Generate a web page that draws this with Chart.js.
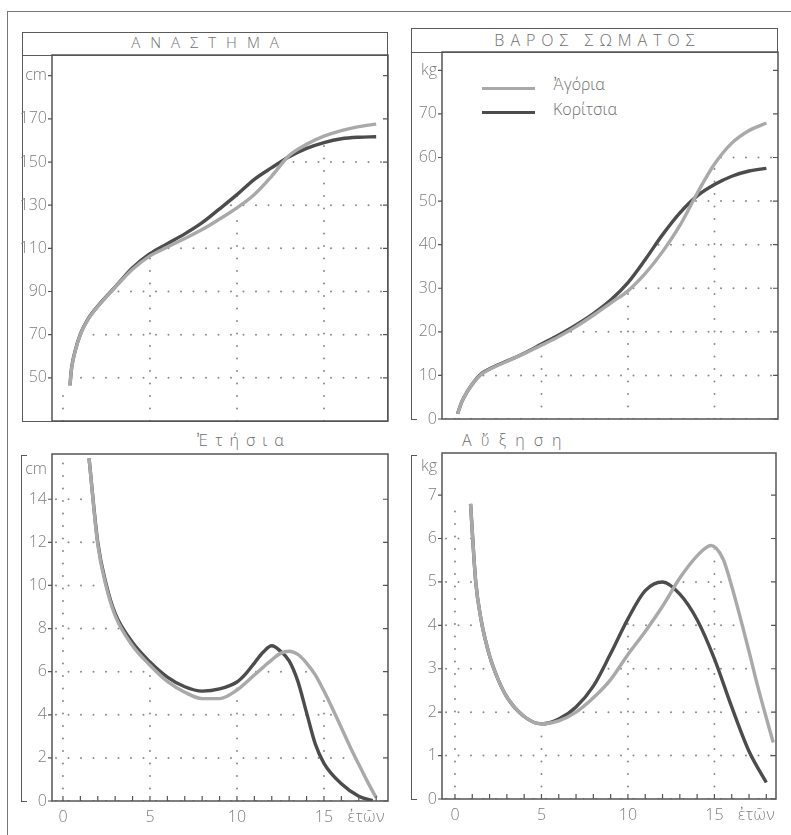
<!DOCTYPE html>
<html lang="el">
<head>
<meta charset="utf-8">
<title>Ανάστημα και βάρος σώματος</title>
<script src="https://cdn.jsdelivr.net/npm/chart.js@4.4.1/dist/chart.umd.min.js"></script>
<style>
  body { margin: 0; background: #fff; width: 791px; height: 835px; overflow: hidden; position: relative;
         font-family: 'Open Sans', 'DejaVu Sans', sans-serif; font-weight: 300; color: #6e6e6e; }
  canvas { position: absolute; }
  .linea { position: absolute; box-sizing: border-box; border: 0 solid #5a5a5a; }
  .texto { position: absolute; white-space: nowrap; line-height: 1; }
  .leyenda { position: absolute; height: 0; border-top: 3px solid; width: 53px; }
</style>
</head>
<body>
<!-- marco general -->
<div class="linea" style="left:7px; top:11px; width:800px; height:840px; border-left-width:1.5px; border-top-width:1.5px; border-color:#777;"></div>

<!-- panel ΑΝΑΣΤΗΜΑ -->
<div class="linea" style="left:22px; top:32px; width:366px; height:390px; border-width:1.5px;"></div>
<div class="linea" style="left:22px; top:32px; width:366px; height:24px; border-width:1.5px;"></div>
<div class="texto" style="left:22px; top:35px; width:366px; text-align:center; font-size:15px; letter-spacing:10px; padding-left:10px; box-sizing:border-box;">ΑΝΑΣΤΗΜΑ</div>

<!-- panel ΒΑΡΟΣ ΣΩΜΑΤΟΣ -->
<div class="linea" style="left:411px; top:28px; width:367px; height:25px; border-width:1.5px;"></div>
<div class="linea" style="left:411px; top:28px; width:6px; height:392px; border-left-width:1.5px; border-bottom-width:1.5px;"></div>
<div class="texto" style="left:411px; top:32px; width:367px; text-align:center; font-size:16px; letter-spacing:6px; padding-left:6px; box-sizing:border-box;">ΒΑΡΟΣ ΣΩΜΑΤΟΣ</div>

<!-- leyenda -->
<div class="leyenda" style="left:482px; top:87px; border-color:#a9a9a9;"></div>
<div class="leyenda" style="left:482px; top:111px; border-color:#4c4c4c;"></div>
<div class="texto" style="left:553px; top:76px; font-size:16px;">Ἀγόρια</div>
<div class="texto" style="left:553px; top:101px; font-size:16px;">Κορίτσια</div>

<!-- paneles de abajo -->
<div class="linea" style="left:21px; top:455px; width:6px; height:347px; border-left-width:1.5px; border-top-width:1.5px; border-bottom-width:1.5px;"></div>
<div class="linea" style="left:411px; top:455px; width:6px; height:345px; border-left-width:1.5px; border-top-width:1.5px; border-bottom-width:1.5px;"></div>
<div class="texto" style="left:197px; top:432px; font-size:16px; letter-spacing:7px;">Ἐτήσια</div>
<div class="texto" style="left:462px; top:432px; font-size:16px; letter-spacing:9px;">Αὔξηση</div>

<canvas id="altura" width="392" height="385" style="left:0; top:45px;"></canvas>
<canvas id="peso" width="392" height="386" style="left:390px; top:42px;"></canvas>
<canvas id="alturaAnual" width="392" height="391" style="left:0; top:444px;"></canvas>
<canvas id="pesoAnual" width="392" height="390" style="left:390px; top:443px;"></canvas>

<script>
// Datos (edad en años)
let edadesAltura = [0.4, 0.5, 0.7, 1, 1.4, 2, 3, 4, 5, 6, 7, 8, 9, 10, 11, 12, 13, 14, 15, 16, 17, 18];
let alturaAgoria = [46.5, 54.5, 62.3, 70, 76.5, 83, 92, 100.3, 106.5, 110.6, 114.6, 118.7, 123.6, 128.8, 135, 143.5, 153, 158.2, 162, 164.6, 166.4, 167.6];
let alturaKoritsia = [46.5, 54.8, 62.5, 70.3, 76.8, 83.2, 92.1, 101, 107.5, 112.2, 116.7, 121.9, 128.3, 134.9, 142, 147.4, 152.4, 156.3, 159, 160.8, 161.5, 161.7];

let edadesPeso = [0.15, 0.4, 0.7, 1, 1.5, 2, 3, 4, 5, 6, 7, 8, 9, 10, 11, 12, 13, 14, 15, 16, 17, 18];
let pesoAgoria = [1.2, 4, 6.2, 8, 10.2, 11.4, 13.2, 15, 16.9, 18.9, 21.2, 23.8, 26.6, 29.4, 33.4, 38.4, 44.4, 51.8, 58.5, 63.3, 66.2, 67.9];
let pesoKoritsia = [1.2, 4, 6.2, 8, 10.3, 11.5, 13.3, 15.1, 17.2, 19.3, 21.6, 24.2, 27.3, 31.3, 36.6, 42.3, 47.3, 51.2, 53.8, 55.7, 56.9, 57.5];

let edadesAlturaAnualA = [1.5, 2, 2.5, 3, 4, 5, 6, 7, 8, 9, 10, 11, 11.5, 12, 12.5, 13, 13.5, 14, 14.5, 15, 15.5, 16, 16.5, 17, 17.5, 18];
let alturaAnualAgoria = [15.9, 11.9, 9.9, 8.6, 7.2, 6.3, 5.55, 5.05, 4.75, 4.75, 5.15, 5.85, 6.2, 6.55, 6.85, 6.95, 6.8, 6.4, 5.85, 5.1, 4.27, 3.4, 2.52, 1.7, 0.9, 0.15];
let edadesAlturaAnualK = [1.5, 2, 2.5, 3, 4, 5, 6, 7, 8, 9, 10, 10.5, 11, 11.5, 12, 12.5, 13, 13.5, 14, 14.5, 15, 16, 17, 17.8];
let alturaAnualKoritsia = [15.9, 12, 10, 8.7, 7.35, 6.45, 5.75, 5.3, 5.1, 5.2, 5.52, 5.9, 6.4, 6.9, 7.2, 6.95, 6.5, 5.55, 4.1, 2.65, 1.75, 0.8, 0.22, 0.02];

let edadesPesoAnualA = [0.9, 1.2, 1.5, 2, 2.5, 3, 4, 5, 6, 7, 8, 9, 10, 11, 12, 13, 14, 14.8, 15.5, 16, 17, 17.5, 18.4];
let pesoAnualAgoria = [6.8, 5.0, 4.15, 3.3, 2.75, 2.35, 1.9, 1.73, 1.8, 2.0, 2.33, 2.75, 3.33, 3.86, 4.44, 5.09, 5.6, 5.84, 5.53, 4.9, 3.4, 2.6, 1.3];
let edadesPesoAnualK = [0.9, 1.2, 1.5, 2, 2.5, 3, 4, 5, 6, 7, 8, 9, 10, 11, 12, 13, 14, 15, 16, 17, 18];
let pesoAnualKoritsia = [6.8, 5.0, 4.15, 3.3, 2.75, 2.35, 1.9, 1.73, 1.84, 2.12, 2.6, 3.35, 4.15, 4.8, 5.0, 4.72, 4.13, 3.23, 2.12, 1.1, 0.38];

// Marcas de los ejes
let marcasAltura = [50, 70, 90, 110, 130, 150, 170, 190];
let marcasPeso = [0, 10, 20, 30, 40, 50, 60, 70, 80];
let marcasAlturaAnual = [0, 2, 4, 6, 8, 10, 12, 14, 15.4];
let marcasPesoAnual = [0, 1, 2, 3, 4, 5, 6, 7, 7.65];
let marcasEdad = [0, 1, 2, 3, 4, 5, 6, 7, 8, 9, 10, 11, 12, 13, 14, 15, 16, 17, 17.4, 18];
let edadesRejilla = [0, 5, 10, 15];

let colorAgoria = '#a9a9a9';
let colorKoritsia = '#4c4c4c';
let colorTexto = '#7c7c7c';
let fuente = { family: "'Open Sans', 'DejaVu Sans', sans-serif", size: 16, weight: '300' };

// Plugin: rejilla de puntos bajo las curvas, marco y marcas cortas
let dibujo = {
    id: 'dibujo',
    beforeDatasetsDraw(chart, args, op) {
        let ctx = chart.ctx, a = chart.chartArea, ex = chart.scales.x, ey = chart.scales.y;
        ctx.save();
        ctx.beginPath();
        chart.data.datasets.forEach(function (ds) {
            let pts = ds.data;
            ctx.moveTo(a.left, a.bottom);
            ctx.lineTo(a.left, ey.getPixelForValue(pts[0].y));
            pts.forEach(p => ctx.lineTo(ex.getPixelForValue(p.x), ey.getPixelForValue(p.y)));
            ctx.lineTo(a.right, ey.getPixelForValue(pts[pts.length - 1].y));
            ctx.lineTo(a.right, a.bottom);
            ctx.closePath();
        });
        ctx.clip();
        ctx.strokeStyle = '#8a8a8a';
        ctx.lineWidth = 2;
        ctx.lineCap = 'round';
        ctx.setLineDash([0, 12.5]);
        op.rejillaY.forEach(function (v) {
            let py = ey.getPixelForValue(v);
            ctx.beginPath();
            ctx.moveTo(a.left + 4, py);
            ctx.lineTo(a.right, py);
            ctx.stroke();
        });
        edadesRejilla.forEach(function (v) {
            let px = ex.getPixelForValue(v);
            ctx.beginPath();
            ctx.moveTo(px, a.bottom);
            ctx.lineTo(px, a.top);
            ctx.stroke();
        });
        ctx.restore();
    },
    afterDatasetsDraw(chart, args, op) {
        let ctx = chart.ctx, a = chart.chartArea, ex = chart.scales.x, ey = chart.scales.y;
        ctx.save();
        ctx.strokeStyle = '#555';
        ctx.lineWidth = 1.5;
        ctx.strokeRect(a.left, a.top, a.right - a.left, a.bottom - a.top);
        ctx.lineWidth = 1.2;
        ctx.beginPath();
        ey.ticks.forEach(function (t) {
            if (t.value === op.unidad && !op.marcaUnidad) return;
            let py = ey.getPixelForValue(t.value);
            ctx.moveTo(a.left - 4, py);
            ctx.lineTo(a.left, py);
            ctx.moveTo(a.right - 5, py);
            ctx.lineTo(a.right, py);
        });
        if (op.marcasX) {
            for (let v = 0; v <= 18; v++) {
                let px = ex.getPixelForValue(v);
                ctx.moveTo(px, a.bottom);
                ctx.lineTo(px, a.bottom - 5);
            }
        }
        ctx.stroke();
        ctx.restore();
    }
};

function serie(edades, valores, color) {
    return {
        data: edades.map((e, i) => ({ x: e, y: valores[i] })),
        borderColor: color,
        borderWidth: 3.4,
        pointRadius: 0,
        fill: false,
        cubicInterpolationMode: 'monotone'
    };
}

// Quita el relleno que Chart.js deja para las etiquetas de los extremos
function sinRelleno(s) {
    s.paddingTop = 0;
    s.paddingBottom = 0;
    s.paddingLeft = 0;
    s.paddingRight = 0;
}

function crearGrafica(id, c) {
    let canvas = document.getElementById(id);
    return new Chart(canvas, {
        type: 'line',
        data: { datasets: c.series },
        options: {
            responsive: false,
            animation: false,
            events: [],
            layout: { padding: { top: 10, right: c.derecha, bottom: c.abajo, left: 0 } },
            plugins: {
                legend: { display: false },
                tooltip: { enabled: false },
                dibujo: {
                    rejillaY: c.marcas.filter(v => v !== c.unidad),
                    unidad: c.unidad,
                    marcaUnidad: c.marcaUnidad,
                    marcasX: c.ejeX
                }
            },
            scales: {
                x: {
                    type: 'linear',
                    min: c.xMin,
                    max: c.xMax,
                    display: c.ejeX,
                    afterBuildTicks: s => { s.ticks = marcasEdad.map(v => ({ value: v })); },
                    afterFit: s => { s.height = c.ejeX ? 34 : 0; sinRelleno(s); },
                    grid: { display: false, drawTicks: false },
                    border: { display: false },
                    ticks: {
                        autoSkip: false,
                        maxRotation: 0,
                        padding: 7,
                        color: colorTexto,
                        font: fuente,
                        callback: v => v === 17.4 ? 'ἐτῶν' : (v % 5 === 0 ? String(v) : '')
                    }
                },
                y: {
                    type: 'linear',
                    min: c.yMin,
                    max: c.yMax,
                    afterBuildTicks: s => { s.ticks = c.marcas.map(v => ({ value: v })); },
                    afterFit: s => { s.width = 52; sinRelleno(s); },
                    grid: { display: false, drawTicks: false },
                    border: { display: false },
                    ticks: {
                        autoSkip: false,
                        padding: 5,
                        color: colorTexto,
                        font: fuente,
                        callback: v => v === c.unidad ? c.nombreUnidad : String(v)
                    }
                }
            }
        },
        plugins: [dibujo]
    });
}

crearGrafica('altura', {
    series: [serie(edadesAltura, alturaAgoria, colorAgoria), serie(edadesAltura, alturaKoritsia, colorKoritsia)],
    xMin: -0.63, xMax: 18.68, yMin: 30, yMax: 199.6,
    marcas: marcasAltura, unidad: 190, nombreUnidad: 'cm', marcaUnidad: true,
    ejeX: false, derecha: 4, abajo: 9
});

crearGrafica('peso', {
    series: [serie(edadesPeso, pesoAgoria, colorAgoria), serie(edadesPeso, pesoKoritsia, colorKoritsia)],
    xMin: -0.75, xMax: 18.67, yMin: 0, yMax: 84.2,
    marcas: marcasPeso, unidad: 80, nombreUnidad: 'kg', marcaUnidad: true,
    ejeX: false, derecha: 4, abajo: 9
});

crearGrafica('alturaAnual', {
    series: [serie(edadesAlturaAnualA, alturaAnualAgoria, colorAgoria), serie(edadesAlturaAnualK, alturaAnualKoritsia, colorKoritsia)],
    xMin: -0.63, xMax: 18.68, yMin: 0, yMax: 16.1,
    marcas: marcasAlturaAnual, unidad: 15.4, nombreUnidad: 'cm', marcaUnidad: false,
    ejeX: true, derecha: 4, abajo: 0
});

crearGrafica('pesoAnual', {
    series: [serie(edadesPesoAnualA, pesoAnualAgoria, colorAgoria), serie(edadesPesoAnualK, pesoAnualKoritsia, colorKoritsia)],
    xMin: -0.75, xMax: 18.56, yMin: 0, yMax: 7.97,
    marcas: marcasPesoAnual, unidad: 7.65, nombreUnidad: 'kg', marcaUnidad: false,
    ejeX: true, derecha: 6, abajo: 0
});
</script>
</body>
</html>
